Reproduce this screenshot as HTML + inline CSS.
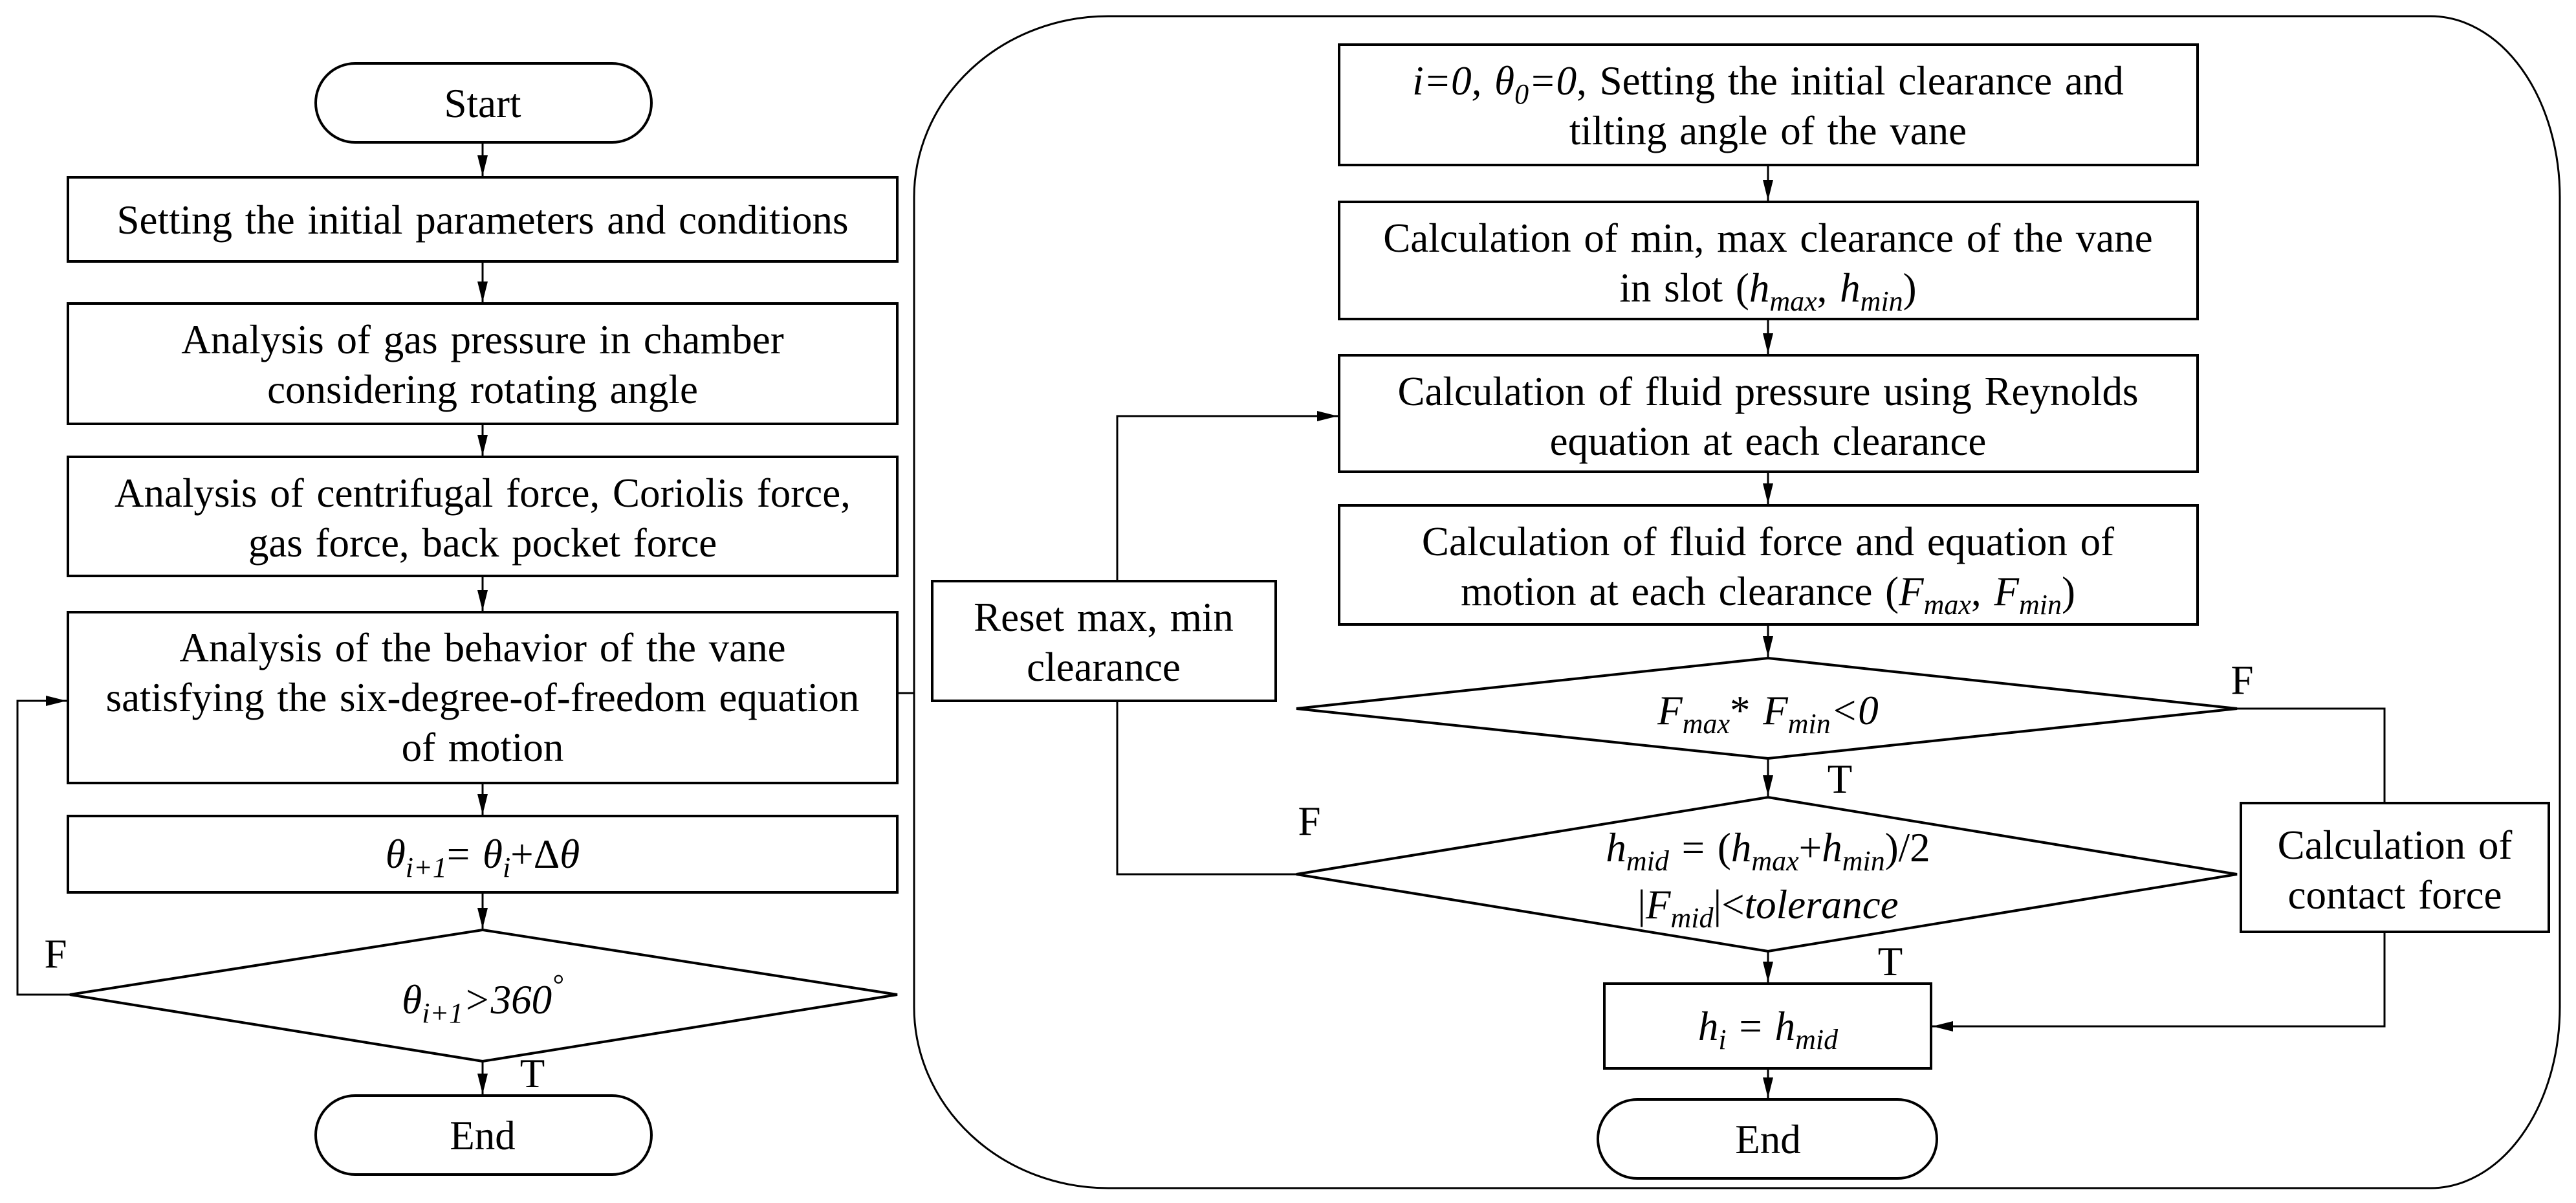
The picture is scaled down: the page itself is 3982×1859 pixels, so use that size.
<!DOCTYPE html>
<html><head><meta charset="utf-8"><style>
html,body{margin:0;padding:0;background:#fff;}
svg{display:block;}
text{font-family:"Liberation Serif",serif;font-size:63px;fill:#000;text-anchor:middle;word-spacing:4px;}
.i{font-style:italic;}
.s{font-size:44px;font-style:italic;}
</style></head><body>
<svg width="3982" height="1859" viewBox="0 0 3982 1859" xmlns="http://www.w3.org/2000/svg">
<defs>
<marker id="a" markerWidth="32" markerHeight="16" refX="10" refY="5" orient="auto" markerUnits="userSpaceOnUse" viewBox="0 0 10 10" preserveAspectRatio="none">
<path d="M0,0 L10,5 L0,10 z" fill="#000"/>
</marker>
</defs>
<style>
.b{fill:#fff;stroke:#000;stroke-width:4;}
.l{fill:none;stroke:#000;stroke-width:3;}
</style>
<!-- outer frame -->
<path class="l" d="M1713,25 L3757,25 A200,280 0 0 1 3957,305 L3957,1556 A200,280 0 0 1 3757,1836 L1713,1836 A300,280 0 0 1 1413,1556 L1413,305 A300,280 0 0 1 1713,25 Z"/>

<!-- LEFT column -->
<rect class="b" x="488" y="98" width="519" height="122" rx="61" ry="61"/>
<text x="746" y="181">Start</text>
<rect class="b" x="105" y="274" width="1282" height="130"/>
<text x="746" y="361">Setting the initial parameters and conditions</text>
<rect class="b" x="105" y="469" width="1282" height="186"/>
<text x="746" y="546">Analysis of gas pressure in chamber</text>
<text x="746" y="623">considering rotating angle</text>
<rect class="b" x="105" y="706" width="1282" height="184"/>
<text x="746" y="783">Analysis of centrifugal force, Coriolis force,</text>
<text x="746" y="860">gas force, back pocket force</text>
<rect class="b" x="105" y="946" width="1282" height="264"/>
<text x="746" y="1022">Analysis of the behavior of the vane</text>
<text x="746" y="1099">satisfying the six-degree-of-freedom equation</text>
<text x="746" y="1176">of motion</text>
<rect class="b" x="105" y="1261" width="1282" height="118"/>
<text x="746" y="1341" class="i">θ<tspan class="s" dy="14">i+1</tspan><tspan dy="-14" font-style="normal">= </tspan>θ<tspan class="s" dy="14">i</tspan><tspan dy="-14" font-style="normal">+Δ</tspan>θ</text>
<polygon class="b" points="746,1437 1387,1537 746,1640 108,1537"/>
<text x="746" y="1566" class="i">θ<tspan class="s" dy="14">i+1</tspan><tspan dy="-14">&gt;360</tspan><tspan class="s" dy="-30">°</tspan></text>
<rect class="b" x="488" y="1693" width="519" height="122" rx="61" ry="61"/>
<text x="746" y="1776">End</text>

<line class="l" x1="746" y1="220" x2="746" y2="272" marker-end="url(#a)"/>
<line class="l" x1="746" y1="404" x2="746" y2="467" marker-end="url(#a)"/>
<line class="l" x1="746" y1="655" x2="746" y2="704" marker-end="url(#a)"/>
<line class="l" x1="746" y1="890" x2="746" y2="944" marker-end="url(#a)"/>
<line class="l" x1="746" y1="1210" x2="746" y2="1259" marker-end="url(#a)"/>
<line class="l" x1="746" y1="1379" x2="746" y2="1435" marker-end="url(#a)"/>
<line class="l" x1="746" y1="1640" x2="746" y2="1691" marker-end="url(#a)"/>
<polyline class="l" points="108,1537 27,1537 27,1083 103,1083" marker-end="url(#a)"/>
<text x="86" y="1495">F</text>
<text x="823" y="1680">T</text>
<line class="l" x1="1387" y1="1071" x2="1413" y2="1071"/>

<!-- RIGHT column -->
<rect class="b" x="2070" y="69" width="1327" height="186"/>
<text x="2733" y="146"><tspan class="i">i=0, θ</tspan><tspan class="s" dy="14">0</tspan><tspan class="i" dy="-14">=0</tspan>, Setting the initial clearance and</text>
<text x="2733" y="223">tilting angle of the vane</text>
<rect class="b" x="2070" y="312" width="1327" height="181"/>
<text x="2733" y="389">Calculation of min, max clearance of the vane</text>
<text x="2733" y="466">in slot (<tspan class="i">h</tspan><tspan class="s" dy="14">max</tspan><tspan dy="-14">, </tspan><tspan class="i">h</tspan><tspan class="s" dy="14">min</tspan><tspan dy="-14">)</tspan></text>
<rect class="b" x="2070" y="549" width="1327" height="180"/>
<text x="2733" y="626">Calculation of fluid pressure using Reynolds</text>
<text x="2733" y="703">equation at each clearance</text>
<rect class="b" x="2070" y="781" width="1327" height="184"/>
<text x="2733" y="858">Calculation of fluid force and equation of</text>
<text x="2733" y="935">motion at each clearance (<tspan class="i">F</tspan><tspan class="s" dy="14">max</tspan><tspan dy="-14">, </tspan><tspan class="i">F</tspan><tspan class="s" dy="14">min</tspan><tspan dy="-14">)</tspan></text>
<polygon class="b" points="2733,1017 3458,1095 2733,1172 2004,1095"/>
<text x="2733" y="1119"><tspan class="i">F</tspan><tspan class="s" dy="14">max</tspan><tspan dy="-14">* </tspan><tspan class="i">F</tspan><tspan class="s" dy="14">min</tspan><tspan class="i" dy="-14">&lt;0</tspan></text>
<polygon class="b" points="2733,1232 3458,1351 2733,1470 2004,1351"/>
<text x="2733" y="1331"><tspan class="i">h</tspan><tspan class="s" dy="14">mid</tspan><tspan dy="-14"> = (</tspan><tspan class="i">h</tspan><tspan class="s" dy="14">max</tspan><tspan dy="-14">+</tspan><tspan class="i">h</tspan><tspan class="s" dy="14">min</tspan><tspan dy="-14">)/2</tspan></text>
<text x="2733" y="1419">|<tspan class="i">F</tspan><tspan class="s" dy="14">mid</tspan><tspan dy="-14">|&lt;</tspan><tspan class="i">tolerance</tspan></text>
<rect class="b" x="2480" y="1520" width="505" height="131"/>
<text x="2733" y="1607"><tspan class="i">h</tspan><tspan class="s" dy="14">i</tspan><tspan dy="-14"> = </tspan><tspan class="i">h</tspan><tspan class="s" dy="14">mid</tspan></text>
<rect class="b" x="2470" y="1699" width="524" height="122" rx="61" ry="61"/>
<text x="2733" y="1782">End</text>

<rect class="b" x="1441" y="898" width="531" height="185"/>
<text x="1706" y="975">Reset max, min</text>
<text x="1706" y="1052">clearance</text>

<rect class="b" x="3464" y="1241" width="476" height="199"/>
<text x="3702" y="1327">Calculation of</text>
<text x="3702" y="1404">contact force</text>

<line class="l" x1="2733" y1="255" x2="2733" y2="310" marker-end="url(#a)"/>
<line class="l" x1="2733" y1="493" x2="2733" y2="547" marker-end="url(#a)"/>
<line class="l" x1="2733" y1="729" x2="2733" y2="779" marker-end="url(#a)"/>
<line class="l" x1="2733" y1="965" x2="2733" y2="1015" marker-end="url(#a)"/>
<line class="l" x1="2733" y1="1172" x2="2733" y2="1230" marker-end="url(#a)"/>
<line class="l" x1="2733" y1="1470" x2="2733" y2="1518" marker-end="url(#a)"/>
<line class="l" x1="2733" y1="1651" x2="2733" y2="1697" marker-end="url(#a)"/>
<polyline class="l" points="2004,1351 1727,1351 1727,1083"/>
<polyline class="l" points="1727,898 1727,643 2068,643" marker-end="url(#a)"/>
<polyline class="l" points="3458,1095 3686,1095 3686,1241"/>
<polyline class="l" points="3686,1440 3686,1586 2987,1586" marker-end="url(#a)"/>
<text x="3466" y="1072">F</text>
<text x="2024" y="1290">F</text>
<text x="2844" y="1225">T</text>
<text x="2922" y="1507">T</text>
</svg>
</body></html>
